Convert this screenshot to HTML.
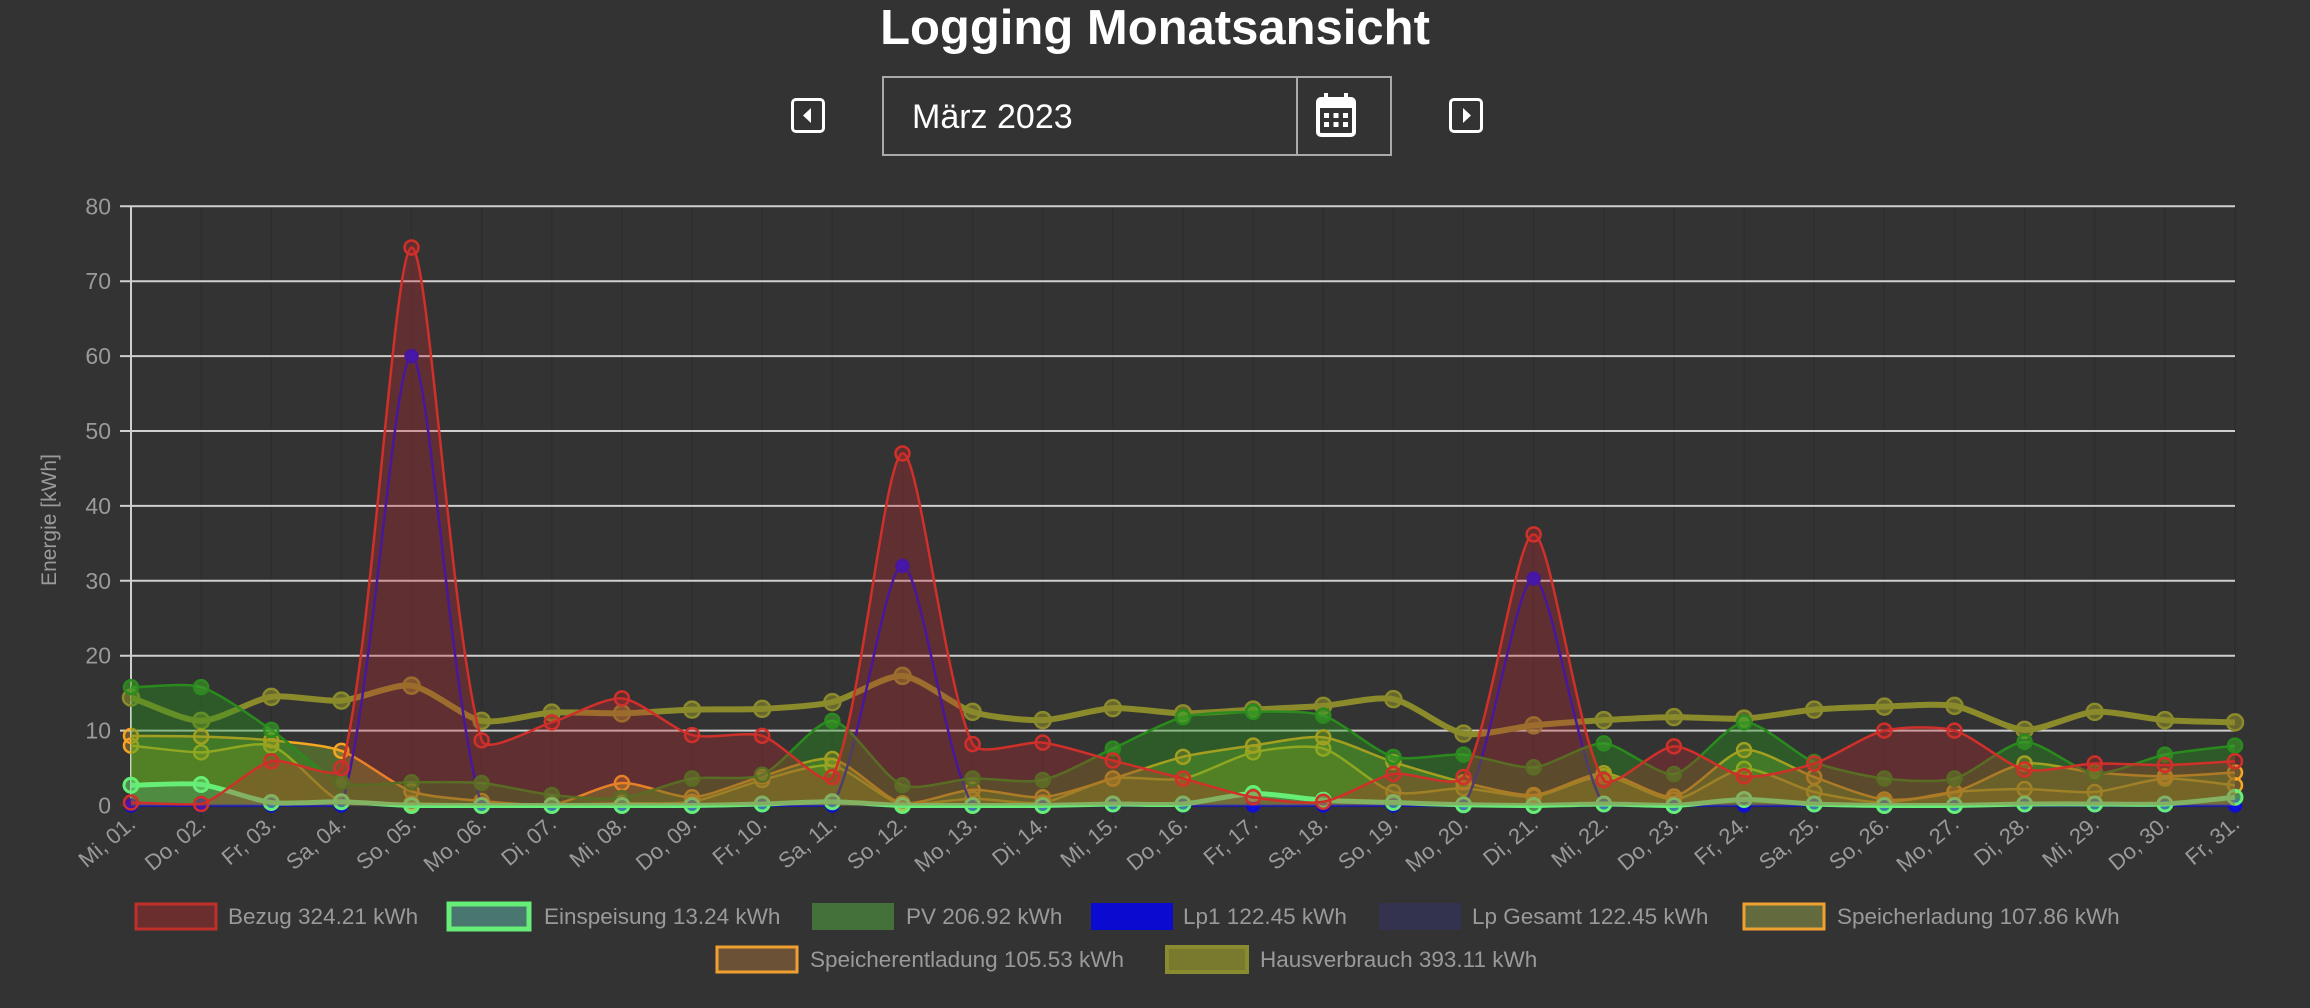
<!DOCTYPE html>
<html><head><meta charset="utf-8">
<style>
html,body{margin:0;padding:0;background:#333333;width:2310px;height:1008px;overflow:hidden;font-family:"Liberation Sans",sans-serif;}
#t{position:absolute;left:0;width:2310px;top:0;text-align:center;color:#fff;font-size:49px;line-height:56px;font-weight:bold;}
.btn{position:absolute;width:34px;height:35px;border:3px solid #fff;border-radius:5px;box-sizing:border-box;}
.date{position:absolute;left:882px;top:76px;width:510px;height:80px;border:2px solid #aaa;box-sizing:border-box;}
.date span{position:absolute;left:28px;top:20px;color:#fff;font-size:34px;}
.date .div{position:absolute;left:412px;top:0;width:2px;height:76px;background:#aaa;}
svg{position:absolute;left:0;top:0;}
</style></head><body>
<div id="t">Logging Monatsansicht</div>
<div class="btn" style="left:791px;top:98px"><svg width="28" height="29" style="position:absolute;left:0;top:0"><polygon points="17,7 9,14.5 17,22" fill="#fff"/></svg></div>
<div class="date"><span>März 2023</span><div class="div"></div>
<svg width="50" height="52" style="left:428px;top:12px"><rect x="6" y="9" width="36" height="36" rx="3" fill="none" stroke="#fff" stroke-width="4"/><rect x="6" y="9" width="36" height="9" fill="#fff"/><rect x="12" y="3" width="4" height="9" fill="#fff"/><rect x="32" y="3" width="4" height="9" fill="#fff"/>
<g fill="#fff"><rect x="12" y="23" width="5" height="5"/><rect x="21.5" y="23" width="5" height="5"/><rect x="31" y="23" width="5" height="5"/><rect x="12" y="32" width="5" height="5"/><rect x="21.5" y="32" width="5" height="5"/><rect x="31" y="32" width="5" height="5"/></g></svg>
</div>
<div class="btn" style="left:1449px;top:98px"><svg width="28" height="29" style="position:absolute;left:0;top:0"><polygon points="11,7 19,14.5 11,22" fill="#fff"/></svg></div>
<svg id="c" width="2310" height="1008" xmlns="http://www.w3.org/2000/svg"></svg>
<script>
const X0=131,DX=(2235-131)/30,Y0=805.5,YS=7.49;
const xs=i=>X0+i*DX, ys=v=>Y0-v*YS;
const days=["Mi","Do","Fr","Sa","So","Mo","Di"];
const D={
bez:[0.4,0.2,5.9,5.0,74.5,8.7,11.1,14.3,9.4,9.3,3.8,47,8.2,8.4,6.0,3.6,1.1,0.5,4.2,3.8,36.2,3.4,7.9,3.9,5.6,10,10,4.8,5.6,5.4,5.9],
ein:[2.7,2.8,0.4,0.5,0,0,0,0,0,0.2,0.5,0,0,0,0.2,0.2,1.6,0.7,0.4,0.1,0,0.2,0,0.8,0.2,0,0,0.2,0.2,0.2,1.1],
pv:[15.8,15.8,10.1,3.1,3.1,3.0,1.4,1.0,3.6,4.1,11.3,2.7,3.6,3.4,7.6,11.8,12.5,12.0,6.5,6.8,5.1,8.3,4.2,11.1,5.8,3.6,3.6,8.5,4.3,6.8,8.0],
lp:[0,0,0,0,60,0,0,0,0,0,0,32,0,0,0,0,0,0,0,0,30.3,0,0,0,0,0,0,0,0,0,0],
sl:[9.3,9.2,8.7,7.3,1.9,0.6,0.1,3.0,1.1,3.9,6.2,0.3,2.1,1.1,3.6,6.5,8.0,9.1,5.8,3.1,1.4,4.3,1.2,7.4,3.8,0.8,1.8,5.6,4.4,3.9,4.4],
se:[8.0,7.1,8.0,0.5,0.3,0.1,0.1,0.3,0.5,3.4,5.3,0.1,0.9,0.4,3.6,3.6,7.1,7.6,1.8,2.3,1.2,3.9,0.8,4.9,1.8,0.4,1.8,2.2,1.8,3.6,2.7],
hv:[14.4,11.3,14.5,14.0,16.0,11.3,12.4,12.3,12.8,12.9,13.8,17.3,12.5,11.4,13.0,12.3,12.8,13.3,14.2,9.6,10.7,11.4,11.8,11.6,12.8,13.2,13.3,10.1,12.5,11.4,11.1]};
function path(v){const p=v.map((y,i)=>[xs(i),ys(y)]);const t=0.25;let cps=[];
for(let i=0;i<p.length;i++){const pr=p[Math.max(i-1,0)],c=p[i],n=p[Math.min(i+1,p.length-1)];
const d01=Math.hypot(c[0]-pr[0],c[1]-pr[1]),d12=Math.hypot(n[0]-c[0],n[1]-c[1]);
let s01=d01/(d01+d12||1),s12=d12/(d01+d12||1);const fa=t*s01,fb=t*s12;
cps.push([[c[0]-fa*(n[0]-pr[0]),Math.min(Y0,c[1]-fa*(n[1]-pr[1]))],[c[0]+fb*(n[0]-pr[0]),Math.min(Y0,c[1]+fb*(n[1]-pr[1]))]]);}
let d=`M${p[0][0]},${p[0][1]}`;for(let i=1;i<p.length;i++){d+=`C${cps[i-1][1][0]},${cps[i-1][1][1]} ${cps[i][0][0]},${cps[i][0][1]} ${p[i][0]},${p[i][1]}`;}return d;}
let s='';
for(let i=0;i<31;i++)s+=`<line x1="${xs(i)}" y1="206" x2="${xs(i)}" y2="820" stroke="#2e2e2e" stroke-width="1.5"/>`;
for(let v=0;v<=80;v+=10){s+=`<line x1="120" y1="${ys(v)}" x2="2235" y2="${ys(v)}" stroke="${v==0?'#3a3a3a':'#cfcfcf'}" stroke-width="2"/>`;
s+=`<text x="111" y="${ys(v)+8}" fill="#9a9a9a" font-size="23" text-anchor="end">${v}</text>`;}
s+=`<line x1="131" y1="206" x2="131" y2="806" stroke="#cfcfcf" stroke-width="2"/>`;
s+=`<text transform="translate(56,520) rotate(-90)" fill="#9a9a9a" font-size="21" text-anchor="middle">Energie [kWh]</text>`;
for(let i=0;i<31;i++){const dd=String(i+1).padStart(2,'0');s+=`<text transform="translate(${xs(i)+6},826) rotate(-40)" fill="#9a9a9a" font-size="22" text-anchor="end">${days[i%7]}, ${dd}.</text>`;}
const S=[
['hv',null,'#8b8b2c',6,'rgba(139,139,44,0.6)'],
['se','rgba(200,120,30,0.3)','#f5a623',2.5,'rgba(245,166,35,0.3)'],
['sl','rgba(140,200,40,0.35)','#f5a623',2.5,'rgba(245,166,35,0.3)'],
['lp',null,'#1010cc',2.5,'#1010dd'],
['pv','rgba(40,150,30,0.4)','#2a8a1e',2.5,'rgba(60,160,40,0.6)'],
['ein','rgba(70,170,150,0.25)','#66ee77',5,'rgba(100,230,120,0.5)'],
['bez','rgba(200,40,50,0.3)','#d0302a',2.5,'rgba(200,40,40,0.3)']];
for(const [k,f,c,w,pf] of S){const d=path(D[k]);
if(f)s+=`<path d="${d}L${xs(30)},${Y0}L${X0},${Y0}Z" fill="${f}"/>`;
s+=`<path d="${d}" fill="none" stroke="${c}" stroke-width="${w}"/>`;
D[k].forEach((v,i)=>{s+=`<circle cx="${xs(i)}" cy="${ys(v)}" r="${k=='hv'?8:k=='lp'?6:7}" fill="${pf}" stroke="${c}" stroke-width="${k=='ein'?3:2.5}"/>`;});}
const L=[[136,228,916,'#6b2e2e','#c0302a',3,'Bezug 324.21 kWh'],[449,544,916,'#4a7670','#66ee77',5,'Einspeisung 13.24 kWh'],[813,906,916,'#44713a','#44713a',2,'PV 206.92 kWh'],[1092,1183,916,'#0a0ad0','#0a0ad0',2,'Lp1 122.45 kWh'],[1380,1472,916,'#33334f','#33334f',2,'Lp Gesamt 122.45 kWh'],[1744,1837,916,'#636b3e','#f0a030',3,'Speicherladung 107.86 kWh'],[717,810,959,'#6b5236','#f0a030',3,'Speicherentladung 105.53 kWh'],[1167,1260,959,'#7a7a2e','#8a8a30',4,'Hausverbrauch 393.11 kWh']];
for(const [bx,tx,y,f,b,w,t] of L){s+=`<rect x="${bx}" y="${y-12}" width="80" height="25" fill="${f}" stroke="${b}" stroke-width="${w}"/>`;
s+=`<text x="${tx}" y="${y+8}" fill="#9a9a9a" font-size="22.5">${t}</text>`;}
document.getElementById('c').innerHTML=s;
</script>
</body></html>
